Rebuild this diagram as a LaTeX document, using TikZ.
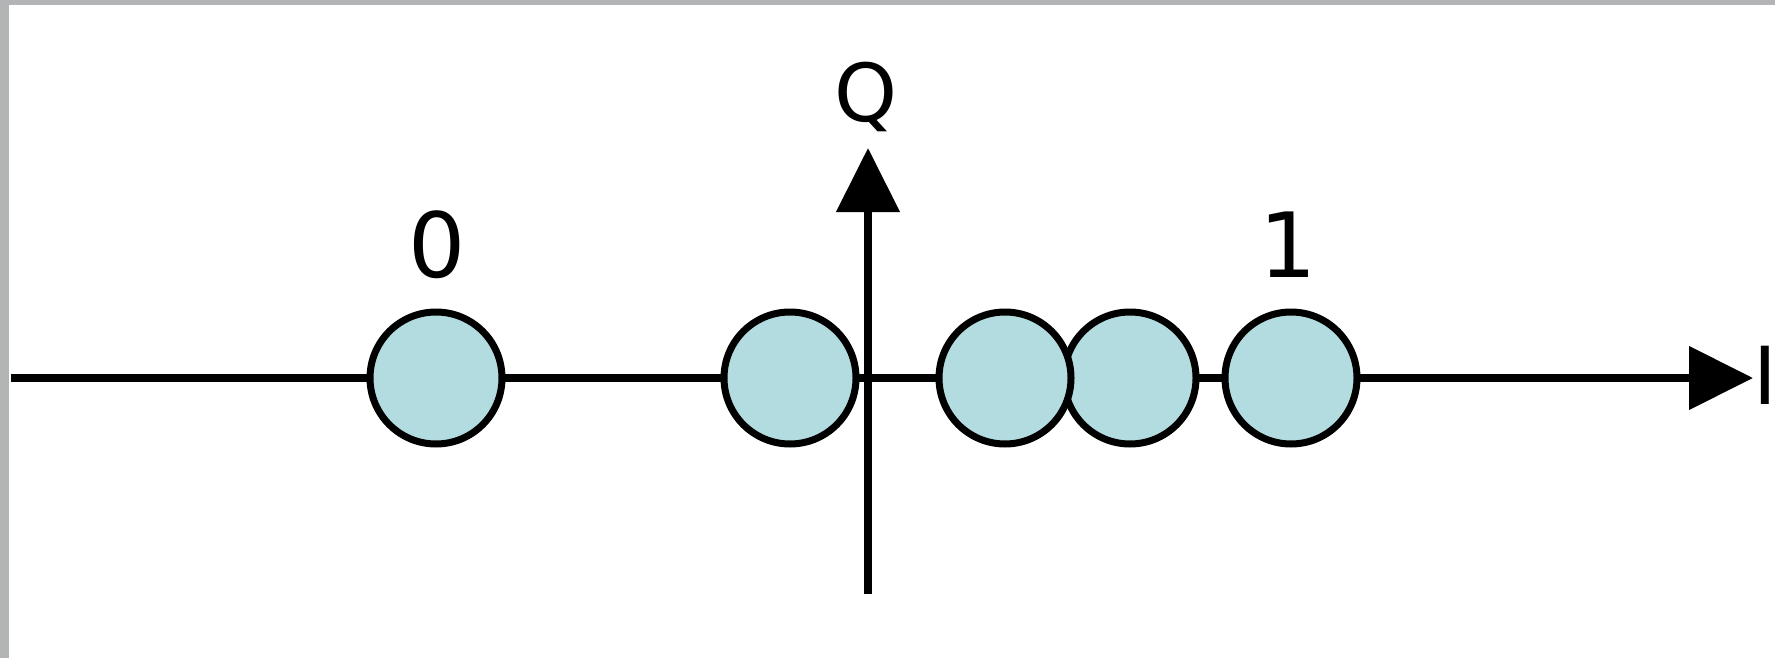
\documentclass[tikz,border=0pt]{standalone}
\usepackage{fontspec}
\setmainfont{DejaVu Sans}
\usetikzlibrary{arrows.meta}
\definecolor{frame}{HTML}{B3B4B6}
\definecolor{symfill}{HTML}{B3DCE0}
\tikzset{
  axis/.style={line width=8pt, -{Triangle[length=64pt,width=62pt]}},
  symbol/.style={circle, draw=black, line width=7pt, fill=symfill,
                 minimum size=132pt, inner sep=0pt},
  axislabel/.style={inner sep=0pt, anchor=base, font=\fontsize{80}{96}\selectfont},
  bitlabel/.style={inner sep=0pt, anchor=base, font=\fontsize{90}{108}\selectfont}
}
\begin{document}
\begin{tikzpicture}[x=1pt,y=-1pt]
  % page and grey frame strips
  \useasboundingbox (0,0) rectangle (1775,658);
  \fill[white] (0,0) rectangle (1775,658);
  \fill[frame] (0,0) rectangle (9,658);
  \fill[frame] (0,0) rectangle (1775,5);

  % axis end points
  \coordinate (ileft)  at (11,378);
  \coordinate (iright) at (1753,378);
  \coordinate (qbot)   at (868,594);
  \coordinate (qtop)   at (868,148);

  % in-phase and quadrature axes
  \draw[axis] (ileft) -- (iright);
  \draw[axis] (qbot) -- (qtop);

  % received symbols on the I axis
  \node[symbol] (s0) at (436,378) {};
  \node[symbol] (s1) at (790,378) {};
  \node[symbol] (s3) at (1130,378) {};
  \node[symbol] (s2) at (1005,378) {};
  \node[symbol] (s4) at (1291,378) {};

  % labels
  \node[axislabel] (qlab) at (866,122) {Q};
  \node[axislabel] (ilab) at (1765,404) {I};
  \node[bitlabel] (zero) at (437,277) {0};
  \node[bitlabel] (one)  at (1288,277) {1};
\end{tikzpicture}
\end{document}
